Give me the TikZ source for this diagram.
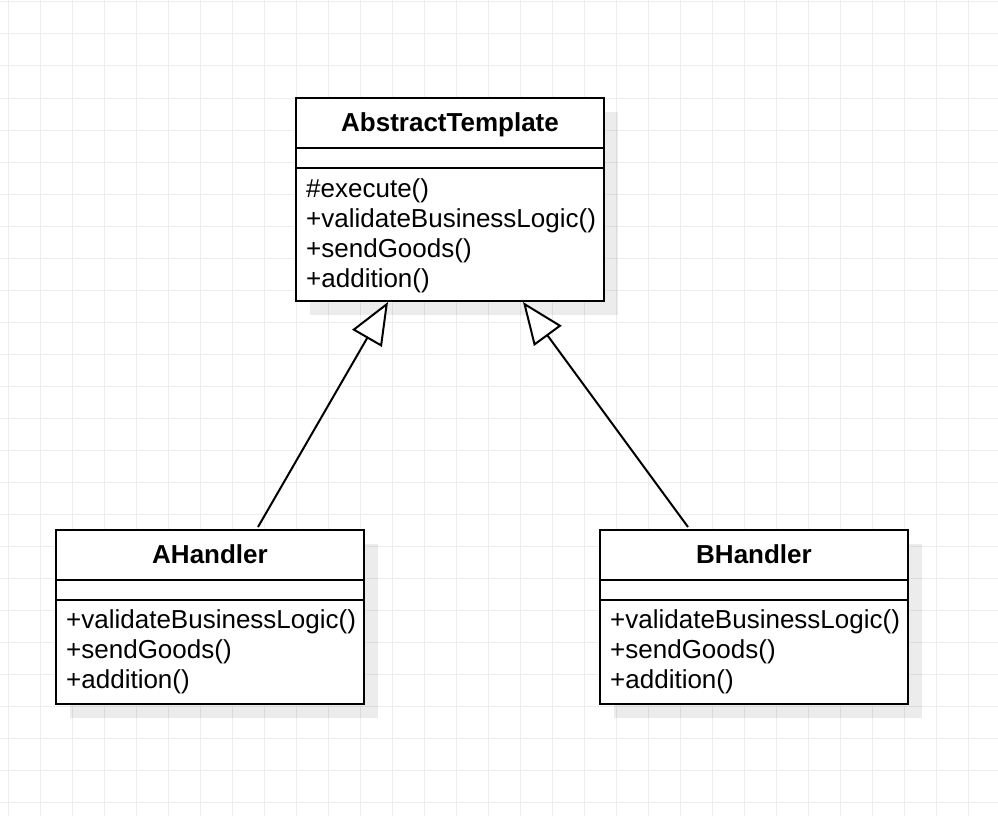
\documentclass[tikz,border=0pt]{standalone}
\usepackage{fontspec}
\setmainfont{Liberation Sans}
\usetikzlibrary{arrows.meta,shadows}
\definecolor{gridc}{HTML}{EDEDED}
\begin{document}
\begin{tikzpicture}[x=1pt,y=-1pt,
  cls/.style={draw=black, line width=2pt, fill=white, inner sep=0pt,
    minimum width=308pt, minimum height=#1,
    drop shadow={shadow xshift=14pt, shadow yshift=-14pt, fill=black, opacity=0.075}},
  sep/.style={line width=2pt},
  ttl/.style={anchor=base, inner sep=0pt, font=\fontsize{26}{30}\selectfont\bfseries},
  mem/.style={anchor=base west, inner sep=0pt, font=\fontsize{26}{30}\selectfont},
  inh/.style={line width=2pt, -{Triangle[length=42pt,width=34pt,fill=white,line join=miter]}}
]
\useasboundingbox (0,0) rectangle (998,816);
\fill[white] (0,0) rectangle (998,816);
\foreach \x in {8,40,...,998} \draw[gridc, line width=1pt] (\x,0) -- (\x,816);
\foreach \y in {2,34,...,816} \draw[gridc, line width=1pt] (0,\y) -- (998,\y);

% AbstractTemplate
\node[cls=203pt] (AT) at (450,199.5) {};
\draw[sep] (296,148) -- (604,148);
\draw[sep] (296,168) -- (604,168);
\node[ttl] (ATt) at (450,131) {AbstractTemplate};
\node[mem] (ATm1) at (306,197) {\#execute()};
\node[mem] (ATm2) at (306,227) {+validateBusinessLogic()};
\node[mem] (ATm3) at (306,257) {+sendGoods()};
\node[mem] (ATm4) at (306,287) {+addition()};

% AHandler
\node[cls=174pt] (AH) at (210,617) {};
\draw[sep] (56,580) -- (364,580);
\draw[sep] (56,600) -- (364,600);
\node[ttl] (AHt) at (210,563) {AHandler};
\node[mem] (AHm1) at (66,628.5) {+validateBusinessLogic()};
\node[mem] (AHm2) at (66,658.5) {+sendGoods()};
\node[mem] (AHm3) at (66,688.5) {+addition()};

% BHandler
\node[cls=174pt] (BH) at (754,617) {};
\draw[sep] (600,580) -- (908,580);
\draw[sep] (600,600) -- (908,600);
\node[ttl] (BHt) at (754,563) {BHandler};
\node[mem] (BHm1) at (610,628.5) {+validateBusinessLogic()};
\node[mem] (BHm2) at (610,658.5) {+sendGoods()};
\node[mem] (BHm3) at (610,688.5) {+addition()};

% inheritance
\draw[inh] ([xshift=48pt,yshift=2pt]AH.north) -- ([xshift=-62pt]AT.south);
\draw[inh] ([xshift=-66pt,yshift=2pt]BH.north) -- ([xshift=73pt]AT.south);
\end{tikzpicture}
\end{document}
